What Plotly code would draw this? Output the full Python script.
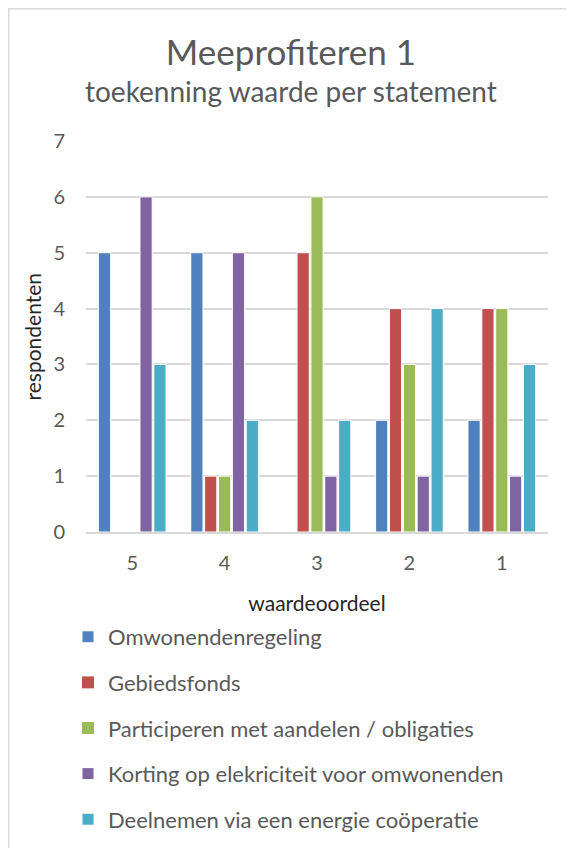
import plotly.graph_objects as go

categories = ["5", "4", "3", "2", "1"]
series_names = [
    "Omwonendenregeling",
    "Gebiedsfonds",
    "Participeren met aandelen / obligaties",
    "Korting op elekriciteit voor omwonenden",
    "Deelnemen via een energie coöperatie",
]
omwonendenregeling = [5, 5, 0, 2, 2]
gebiedsfonds = [0, 1, 5, 4, 4]
participeren = [0, 1, 6, 3, 4]
korting = [6, 5, 1, 1, 1]
deelnemen = [3, 2, 2, 4, 3]
series_values = [omwonendenregeling, gebiedsfonds, participeren, korting, deelnemen]
colors = ["#4F81BD", "#C0504D", "#9BBB59", "#8064A2", "#4BACC6"]

# page body adds an 8px offset, so the figure is sized to fit the window
W, H = 566, 840
L, R, T, B = 78, 26, 133, 316
FONT = "Lato, 'Noto Sans', sans-serif"
GREY = "#595959"
DARK = "#262626"

pw = W - L - R
ph = H - T - B


def px_x(px):
    return (px - L) / pw


def px_y(py):
    return (T + ph - py) / ph


fig = go.Figure()
for name, vals, col in zip(series_names, series_values, colors):
    fig.add_trace(go.Bar(
        x=categories, y=vals, name=name, legendgroup=name,
        marker=dict(color=col, line=dict(color="white", width=[1 if v else 0 for v in vals])),
    ))

fig.add_shape(type="rect", xref="paper", yref="paper",
              x0=px_x(0.75), x1=px_x(W + 10), y0=px_y(H + 10), y1=px_y(0.75),
              line=dict(color="#D9D9D9", width=1.5), layer="below")

fig.update_layout(
    width=W, height=H,
    margin=dict(l=L, r=R, t=T, b=B, autoexpand=False),
    paper_bgcolor="white", plot_bgcolor="white",
    font=dict(family=FONT, color=GREY, size=20),
    barmode="group", bargap=0.25, bargroupgap=0.12,
    title=dict(text="Meeprofiteren 1", x=0.5, xref="container", xanchor="center",
               y=1 - 45 / H, yref="container", yanchor="middle",
               font=dict(family=FONT, size=35, color=GREY)),
    xaxis=dict(type="category", showgrid=False, showline=True, linecolor="#D9D9D9", linewidth=1.5,
               ticks="outside", ticklen=12, tickcolor="rgba(0,0,0,0)",
               tickfont=dict(size=20, color=GREY),
               title=dict(text="waardeoordeel", font=dict(size=21, color=DARK), standoff=24)),
    yaxis=dict(range=[0, 7], dtick=1, showgrid=True, gridcolor="#D9D9D9", gridwidth=1.5,
               zeroline=False, showline=False,
               ticks="outside", ticklen=16, tickcolor="rgba(0,0,0,0)",
               tickfont=dict(size=20, color=GREY)),
    legend=dict(orientation="v", xref="container", yref="container",
                x=60 / W, xanchor="left", y=1 - 608 / H, yanchor="top",
                tracegroupgap=14, font=dict(size=22, color=GREY), traceorder="grouped"),
    annotations=[
        dict(text="toekenning waarde per statement", xref="paper", yref="paper",
             x=px_x(W / 2), y=px_y(83), showarrow=False,
             xanchor="center", yanchor="middle",
             font=dict(family=FONT, size=28, color=GREY)),
        dict(text="respondenten", xref="paper", yref="paper",
             x=px_x(24), y=0.5, showarrow=False, textangle=-90,
             xanchor="center", yanchor="middle",
             font=dict(family=FONT, size=21, color=DARK)),
    ],
)

fig.write_html("out.html")
